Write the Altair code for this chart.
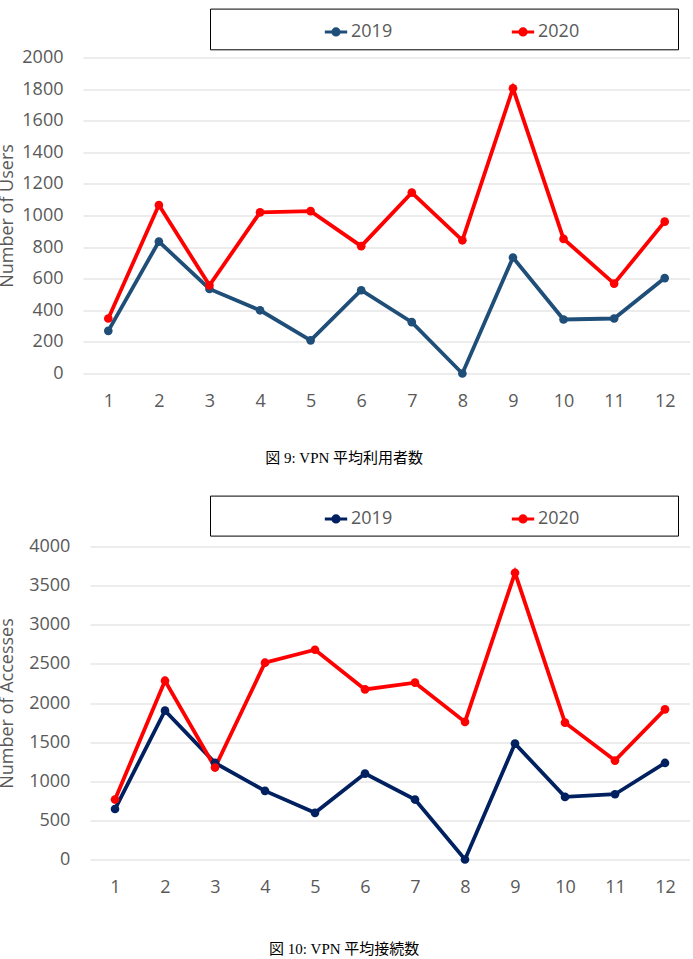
import altair as alt
import pandas as pd

months = [str(m) for m in range(1, 13)]
users_2019 = [270, 835, 535, 400, 210, 527, 325, 0, 734, 342, 348, 604]
users_2020 = [348, 1066, 558, 1020, 1028, 806, 1145, 843, 1805, 852, 569, 961]
access_2019 = [645, 1902, 1235, 877, 596, 1098, 766, 0, 1481, 800, 834, 1234]
access_2020 = [766, 2285, 1175, 2515, 2681, 2174, 2260, 1758, 3664, 1749, 1264, 1919]
series = ["2019", "2020"]
caption1 = "図 9: VPN 平均利用者数"
caption2 = "図 10: VPN 平均接続数"

FONT = "Open Sans"
GRAY = "#595959"
CAP_FONT = "Liberation Serif, Noto Sans CJK JP"


def long_df(a, b):
    rows = []
    for s, vals in zip(series, [a, b]):
        for m, v in zip(months, vals):
            rows.append({"month": m, "series": s, "value": v})
    return pd.DataFrame(rows)


LEGEND_SYMBOL = ("M-1,0L1,0M-0.28,0a0.28,0.28 0 1,0 0.56,0a0.28,0.28 0 1,0 -0.56,0"
                 "M-0.12,0a0.12,0.12 0 1,0 0.24,0a0.12,0.12 0 1,0 -0.24,0")


def panel(df, colors, ytitle, ymax, ystep, width, height, caption,
          leg_x, leg_y, box, title_pad, label_pad, cap_offset, xrange):
    base = alt.Chart(df)
    x = alt.X("month:O", sort=months, title=None,
              scale=alt.Scale(type="point", padding=0.5, range=xrange),
              axis=alt.Axis(labelAngle=0, domain=False, ticks=False, grid=False,
                            labelFont=FONT, labelFontSize=18, labelColor=GRAY,
                            labelPadding=19))
    y = alt.Y("value:Q", title=ytitle,
              scale=alt.Scale(domain=[0, ymax], nice=False),
              axis=alt.Axis(values=list(range(0, ymax + 1, ystep)), format="d",
                            domain=False, ticks=False, gridColor="#D9D9D9",
                            gridWidth=1, labelFont=FONT, labelFontSize=18,
                            labelColor=GRAY, labelPadding=label_pad,
                            titleFont=FONT, titleFontSize=18, titleColor=GRAY,
                            titleFontWeight="normal", titlePadding=title_pad))
    color = alt.Color("series:N", title=None,
                      scale=alt.Scale(domain=series, range=colors),
                      legend=alt.Legend(orient="none", direction="horizontal",
                                        legendX=leg_x, legendY=leg_y,
                                        symbolType=LEGEND_SYMBOL, symbolSize=500,
                                        symbolStrokeWidth=3, labelFont=FONT,
                                        labelFontSize=18, labelColor=GRAY,
                                        labelOffset=2, columnPadding=112,
                                        padding=0))
    lines = base.mark_line(strokeWidth=3.8).encode(x=x, y=y, color=color)
    points = base.mark_point(filled=True, size=75, opacity=1).encode(
        x=x, y=y, color=alt.Color("series:N", scale=alt.Scale(domain=series, range=colors), legend=None))
    frame = alt.Chart(alt.Data(values=[{"k": 1}])).mark_rect(
        fill="transparent", stroke="#000000", strokeWidth=1
    ).encode(x=alt.value(box[0]), x2=alt.value(box[1]),
             y=alt.value(box[2]), y2=alt.value(box[3]))
    return alt.layer(lines, points, frame).properties(
        width=width, height=height,
        title=alt.TitleParams(caption, orient="bottom", anchor="middle", frame="bounds",
                              font=CAP_FONT, fontSize=15, fontWeight="normal",
                              color="#000000", offset=cap_offset),
    )


c1 = panel(long_df(users_2019, users_2020), ["#1F4E79", "#FF0000"],
           "Number of Users", 2000, 200, 607, 316, caption1,
           240, -39, (127.5, 595.5, -48.4, -7.7), 5.5, 20, 40, [0, 607])
c2 = panel(long_df(access_2019, access_2020), ["#002060", "#FF0000"],
           "Number of Accesses", 4000, 500, 607, 313, caption2,
           240, -41, (127.5, 595.5, -50.4, -10.4), 12.3, 13.2, 45, [7, 607])

chart = alt.vconcat(c1, c2, spacing=30).resolve_scale(
    color="independent").configure_view(stroke=None).properties(
    padding={"top": 8.5, "left": -2, "right": 0, "bottom": 0},
    background="white")

chart.save("out.html", embed_options={"renderer": "svg", "actions": False})
